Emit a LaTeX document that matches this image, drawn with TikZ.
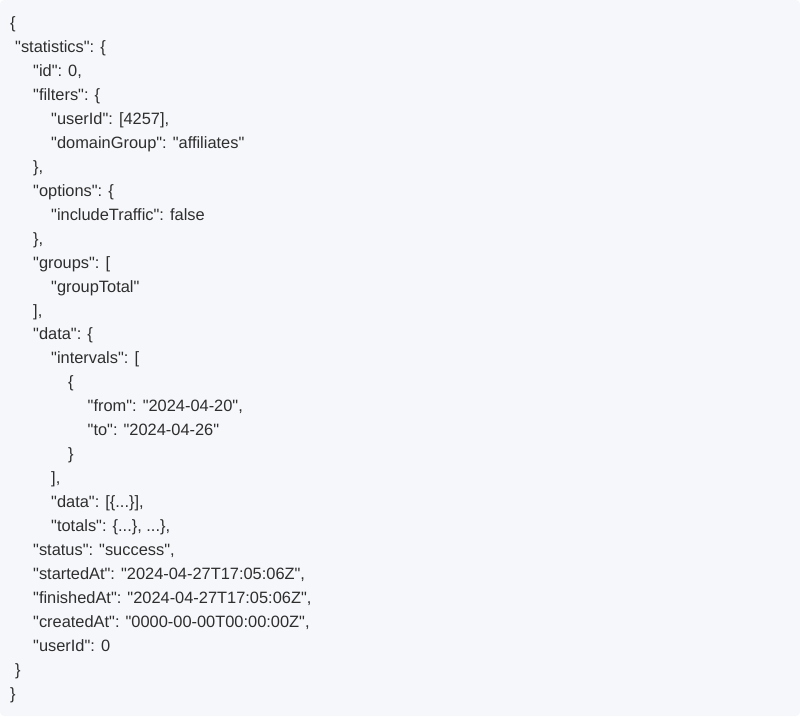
\documentclass[tikz,border=0pt]{standalone}
\usepackage{fontspec}
\setmainfont{Liberation Sans}[Ligatures=TeXOff]
\usepackage{xcolor}
\definecolor{codebg}{HTML}{F6F7FA}
\definecolor{codetext}{HTML}{2E2E2E}
\tikzset{
  jsonline/.style={anchor=base west,inner sep=0pt,text=codetext,font=\fontsize{16.4}{20}\selectfont}
}
\begin{document}
\begin{tikzpicture}[x=1pt,y=-1pt]
    \useasboundingbox (0,0) rectangle (800,716);
    \fill[codebg,rounded corners=4pt] (0,0) rectangle (800,716);
    \node[jsonline] (l0) at (10,28.5) {\{};
    \node[jsonline] (l1) at (15,52.46) {"statistics": \{};
    \node[jsonline] (l2) at (33,76.42) {"id": 0,};
    \node[jsonline] (l3) at (33,100.38) {"filters": \{};
    \node[jsonline] (l4) at (51,124.34) {"userId": [4257],};
    \node[jsonline] (l5) at (51,148.3) {"domainGroup": "affiliates"};
    \node[jsonline] (l6) at (33,172.26) {\},};
    \node[jsonline] (l7) at (33,196.22) {"options": \{};
    \node[jsonline] (l8) at (51,220.18) {"includeTraffic": false};
    \node[jsonline] (l9) at (33,244.14) {\},};
    \node[jsonline] (l10) at (33,268.1) {"groups": [};
    \node[jsonline] (l11) at (51,292.06) {"groupTotal"};
    \node[jsonline] (l12) at (33,316.02) {],};
    \node[jsonline] (l13) at (33,339.98) {"data": \{};
    \node[jsonline] (l14) at (51,363.94) {"intervals": [};
    \node[jsonline] (l15) at (68,387.9) {\{};
    \node[jsonline] (l16) at (87.5,411.86) {"from": "2024-04-20",};
    \node[jsonline] (l17) at (87.5,435.82) {"to": "2024-04-26"};
    \node[jsonline] (l18) at (68,459.78) {\}};
    \node[jsonline] (l19) at (51,483.74) {],};
    \node[jsonline] (l20) at (51,507.7) {"data": [\{...\}],};
    \node[jsonline] (l21) at (51,531.66) {"totals": \{...\}, ...\},};
    \node[jsonline] (l22) at (33,555.62) {"status": "success",};
    \node[jsonline] (l23) at (33,579.58) {"startedAt": "2024-04-27T17:05:06Z",};
    \node[jsonline] (l24) at (33,603.54) {"finishedAt": "2024-04-27T17:05:06Z",};
    \node[jsonline] (l25) at (33,627.5) {"createdAt": "0000-00-00T00:00:00Z",};
    \node[jsonline] (l26) at (33,651.46) {"userId": 0};
    \node[jsonline] (l27) at (15,675.42) {\}};
    \node[jsonline] (l28) at (10,699.38) {\}};
  \end{tikzpicture}
\end{document}
